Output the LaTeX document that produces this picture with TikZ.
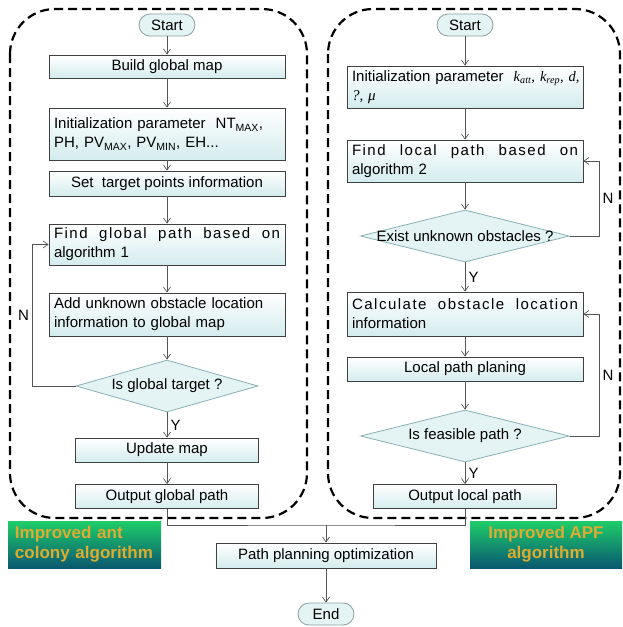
\documentclass[tikz,border=0pt]{standalone}
\usepackage{fontspec}
\setmainfont{Liberation Sans}
\newfontfamily\spaced[LetterSpace=10]{Liberation Sans}
\newfontfamily\serifit{Liberation Serif}
\usetikzlibrary{shapes.geometric, arrows.meta, positioning, calc}
\definecolor{boxcyan}{RGB}{212,236,238}
\definecolor{diafill}{RGB}{228,243,243}
\definecolor{diaborder}{RGB}{138,176,180}
\definecolor{termborder}{RGB}{140,160,162}
\definecolor{linegray}{RGB}{85,85,85}
\definecolor{greentop}{RGB}{30,205,105}
\definecolor{greenbottom}{RGB}{10,88,112}
\definecolor{goldtext}{RGB}{222,172,48}

\begin{document}
\begin{tikzpicture}[
    x=1pt, y=-1pt,
    font=\fontsize{15}{19}\selectfont,
    box/.style={draw=black!75, line width=0.8pt, top color=white, bottom color=boxcyan, minimum width=236pt, minimum height=#1, inner xsep=5pt, inner ysep=0pt, align=center},
    box/.default=24pt,
    textbox/.style={box=#1, text width=226pt, align=left},
    shortbox/.style={box, minimum width=183pt},
    decision/.style={diamond, draw=diaborder, fill=diafill, line width=0.8pt, inner sep=0pt, minimum width=#1, minimum height=52pt},
    terminal/.style={draw=termborder, fill=diafill, line width=0.8pt, rounded corners=11pt, minimum width=56pt, minimum height=22pt, inner sep=0pt},
    region/.style={draw=black, line width=2.2pt, dash pattern=on 9pt off 5pt, rounded corners=45pt},
    banner/.style={top color=greentop, bottom color=greenbottom, text=goldtext, font=\bfseries\fontsize{17}{20}\selectfont, minimum width=153pt, minimum height=47pt, inner xsep=7pt},
    arrow/.style={-{Straight Barb[length=5pt,width=7pt]}, draw=linegray, line width=0.7pt},
    line/.style={draw=linegray, line width=0.7pt}
]
\useasboundingbox (0,0) rectangle (622,627);

% the two algorithm regions
\draw[region] (10,9) rectangle (307,518);
\draw[region] (328,9) rectangle (620,518);

% improved ant colony algorithm
\node[terminal] (startL) at (167,25) {Start};
\node[box=23pt] (build) at (167,66.5) {Build global map};
\node[textbox=52pt] (initL) at (167,134) {Initialization parameter\ \ NT\textsubscript{MAX},\\PH, PV\textsubscript{MAX}, PV\textsubscript{MIN}, EH...};
\node[box=25pt] (target) at (167,183.5) {Set\ \ target points information};
\node[textbox=41pt] (findG) at (167,244.5) {\noindent\hbox to \hsize{\spaced Find\hfill global\hfill path\hfill based\hfill on}\\algorithm 1};
\node[textbox=43pt] (addObs) at (167,314.5) {Add unknown obstacle location\\information to global map};
\node[decision=182pt, label={center:Is global target ?}] (isTarget) at (167,386) {};
\node[shortbox] (update) at (167,450) {Update map};
\node[shortbox=25pt] (outG) at (167,496.5) {Output global path};

% improved APF algorithm
\node[terminal] (startR) at (465,25) {Start};
\node[textbox=42pt] (initR) at (465,87) {\mbox{Initialization parameter\ {\serifit\itshape\fontsize{14.5}{19}\selectfont\ k\textsubscript{att}, k\textsubscript{rep}, d,}}\\{\serifit\itshape ?, μ}};
\node[textbox=42pt] (findL) at (465,161) {\noindent\hbox to \hsize{\spaced Find\hfill local\hfill path\hfill based\hfill on}\\algorithm 2};
\node[decision=209pt, label={center:Exist unknown obstacles ?}] (exist) at (465,236) {};
\node[textbox=44pt] (calc) at (465,314) {\noindent\hbox to \hsize{\spaced Calculate\hfill obstacle\hfill location}\\information};
\node[box] (localP) at (465,369) {Local path planing};
\node[decision=209pt, label={center:Is feasible path ?}] (feasible) at (465,436) {};
\node[shortbox=25pt] (outL) at (465,496.5) {Output local path};

% merge
\node[box=25pt, minimum width=220pt] (optim) at (326,555.5) {Path planning optimization};
\node[terminal] (endN) at (326,614) {End};

\node[banner, text width=139pt, align=left] (antLabel) at (84.5,544.5) {Improved ant\\colony algorithm};
\node[banner, minimum width=152pt, align=center] (apfLabel) at (546,544.5) {Improved APF\\algorithm};

\coordinate (joinpt) at (326,525);

\draw[arrow] (startL) -- (build);
\draw[arrow] (build) -- (initL);
\draw[arrow] (initL) -- (target);
\draw[arrow] (target) -- (findG);
\draw[arrow] (findG) -- (addObs);
\draw[arrow] (addObs) -- (isTarget);
\draw[arrow] (isTarget) -- node[right] {Y} (update);
\draw[arrow] (update) -- (outG);
\draw[arrow] (isTarget.west) -- ++(-43,0) |- node[left, pos=0.25] {N} (findG.west);

\draw[arrow] (startR) -- (initR);
\draw[arrow] (initR) -- (findL);
\draw[arrow] (findL) -- (exist);
\draw[arrow] (exist) -- node[right] {Y} (calc);
\draw[arrow] (calc) -- (localP);
\draw[arrow] (localP) -- (feasible);
\draw[arrow] (feasible) -- node[right] {Y} (outL);
\draw[arrow] (exist.east) -- ++(29,0) |- node[right, pos=0.25] {N} (findL.east);
\draw[arrow] (feasible.east) -- ++(29,0) |- node[right, pos=0.25] {N} (calc.east);

\draw[line] (outG.south) |- (joinpt) -| (outL.south);
\draw[arrow] (joinpt) -- (optim);
\draw[arrow] (optim) -- (endN);

\end{tikzpicture}
\end{document}
